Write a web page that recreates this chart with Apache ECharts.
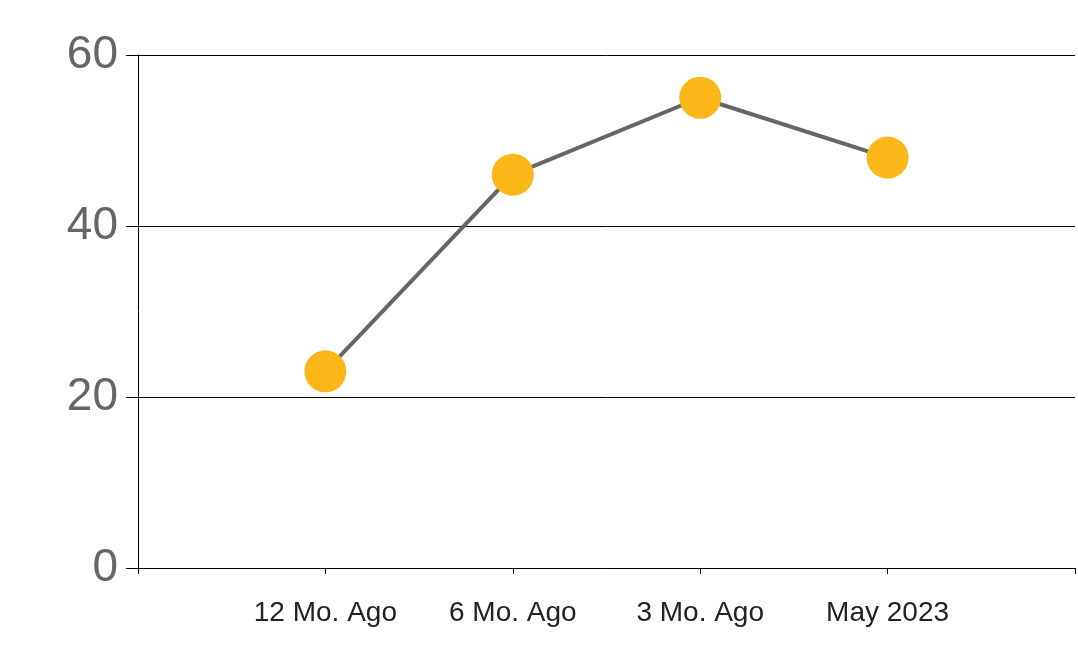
<!DOCTYPE html>
<html>
<head>
<meta charset="utf-8">
<script src="https://cdn.jsdelivr.net/npm/echarts@6/dist/echarts.min.js"></script>
<style>html,body{margin:0;background:#fff}#chart{width:1078px;height:663px}</style>
</head>
<body>
<div id="chart"></div>
<script>
const categories = ['', '12 Mo. Ago', '6 Mo. Ago', '3 Mo. Ago', 'May 2023', ''];
const values = [null, 23, 46, 55, 48, null];
const yTicks = [0, 20, 40, 60];

const chart = echarts.init(document.getElementById('chart'));
chart.setOption({
  animation: false,
  grid: { left: 138, right: 3, top: 55, bottom: 95 },
  xAxis: {
    type: 'category',
    data: categories,
    boundaryGap: false,
    axisLine: { lineStyle: { color: '#000', width: 1 } },
    axisTick: { length: 6, lineStyle: { color: '#000' } },
    axisLabel: { color: '#222', fontSize: 28, fontFamily: 'Liberation Sans', margin: 31 }
  },
  yAxis: {
    type: 'value',
    min: yTicks[0],
    max: yTicks[yTicks.length - 1],
    interval: 20,
    axisLine: { show: true, lineStyle: { color: '#000', width: 1 } },
    axisTick: { show: true, length: 12, lineStyle: { color: '#000' } },
    splitLine: { lineStyle: { color: '#000', width: 1 } },
    axisLabel: { color: '#666', fontSize: 46, fontFamily: 'Liberation Sans', margin: 20 }
  },
  series: [{
    type: 'line',
    data: values,
    connectNulls: false,
    symbol: 'circle',
    symbolSize: 42,
    lineStyle: { color: '#666', width: 4 },
    itemStyle: { color: '#FBB718', borderWidth: 0 }
  }]
});
</script>
</body>
</html>
